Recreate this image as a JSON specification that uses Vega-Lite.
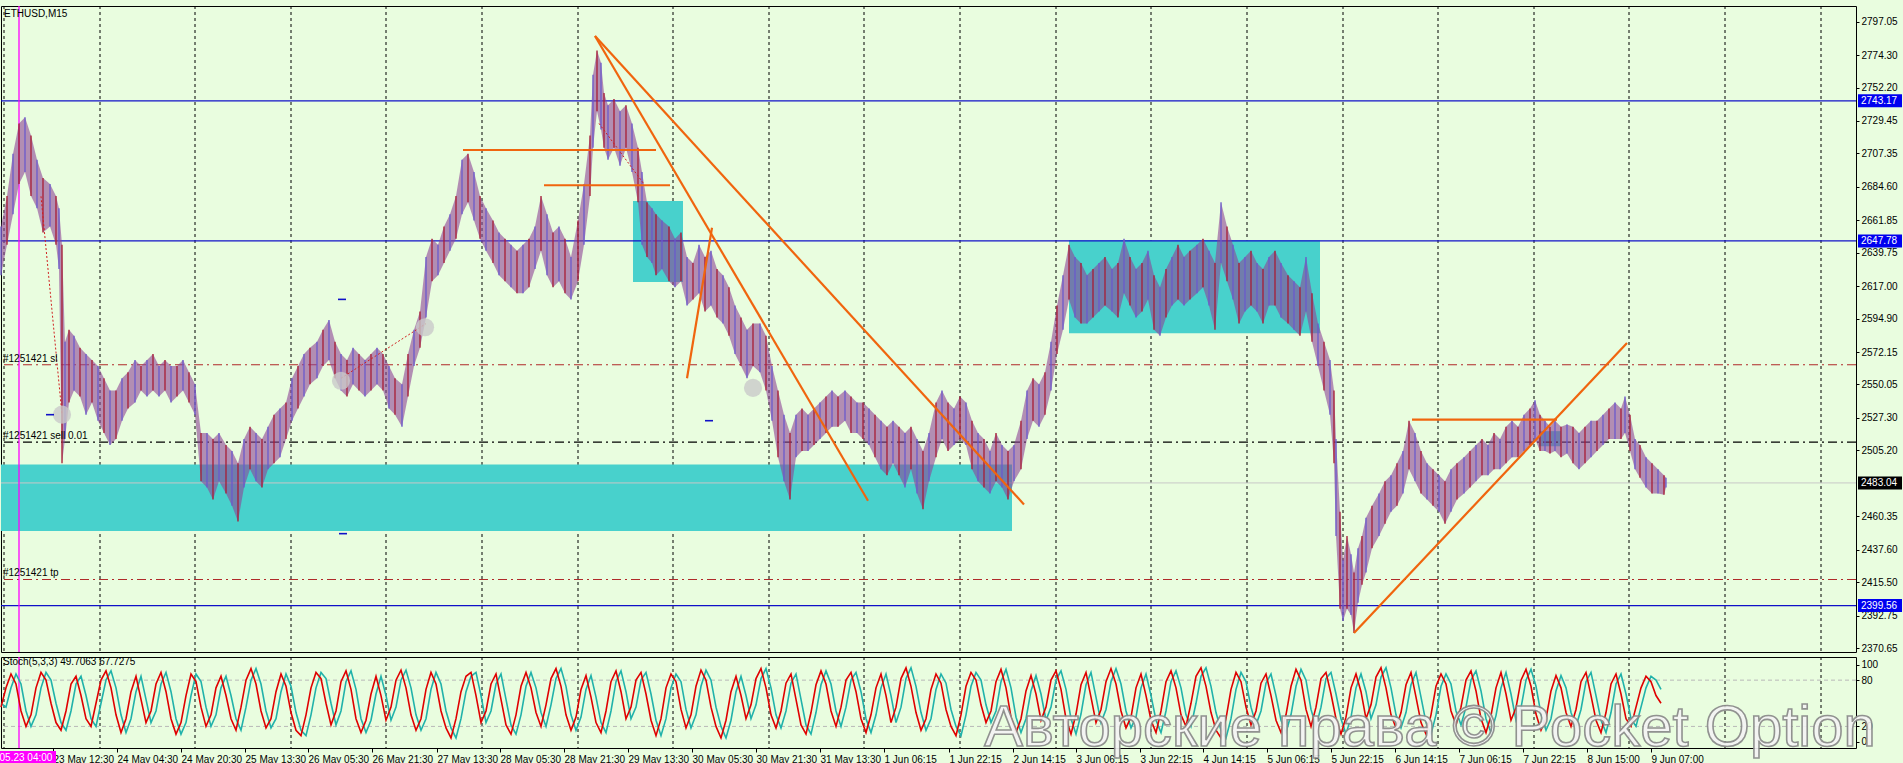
{
"$schema":"https://vega.github.io/schema/vega-lite/v6.json",
"background":"#e9fddf",
"padding":{"left":-19,"top":4,"right":0,"bottom":0},
"spacing":1,
"config":{"view":{"stroke":"#000","strokeWidth":1},"font":"Liberation Sans","axis":{"labelOverlap":false,"labelBound":false,"labelFlush":false}},
"resolve":{"scale":{"x":"independent","y":"independent"}},
"datasets":{
"grid":[{"t":3},{"t":99},{"t":194},{"t":290},{"t":385},{"t":481},{"t":577},{"t":672},{"t":768},{"t":863},{"t":959},{"t":1055},{"t":1150},{"t":1246},{"t":1342},{"t":1437},{"t":1533},{"t":1628},{"t":1724},{"t":1820}],
"zones":[{"t1":0,"t2":1011,"p1":2450.3,"p2":2495.5},{"t1":632,"t2":682,"p1":2619.8,"p2":2675.0},{"t1":1068,"t2":1319,"p1":2585.0,"p2":2648.3},{"t1":1538,"t2":1560,"p1":2508.0,"p2":2518.3}],
"blueLevels":[{"p":2743.17},{"p":2647.78},{"p":2399.56}],
"redLevels":[{"p":2563.5},{"p":2417.3}],
"blackLevels":[{"p":2510.8}],
"grayLevels":[{"p":2483.04}],
"pink":[{"t":18}],
"orders":[{"p":2563.5,"txt":"#1251421 sl"},{"p":2510.8,"txt":"#1251421 sell 0.01"},{"p":2417.3,"txt":"#1251421 tp"}],
"orange":[{"t1":462,"p1":2709.7,"t2":655,"p2":2709.7},{"t1":543,"p1":2685.7,"t2":669,"p2":2685.7},{"t1":594,"p1":2787.3,"t2":867,"p2":2470.9},{"t1":594,"p1":2787.3,"t2":1023,"p2":2468.4},{"t1":686,"p1":2554.3,"t2":711,"p2":2656.8},{"t1":1411,"p1":2526.2,"t2":1556,"p2":2526.2},{"t1":1353,"p1":2380.8,"t2":1626,"p2":2578.3}],
"trades":[{"t1":40,"p1":2678.2,"t2":61,"p2":2529.5},{"t1":598,"p1":2727.8,"t2":643,"p2":2686.5},{"t1":340,"p1":2554.3,"t2":425,"p2":2591.5}],
"circles":[{"t":61,"p":2529.5},{"t":340,"p":2552.6},{"t":424,"p":2589.0},{"t":752,"p":2547.7}],
"bdash":[{"t":49,"p":2529.5},{"t":341,"p":2608.0},{"t":342,"p":2448.5},{"t":708,"p":2525.4}],
"ylab":[{"p":2743.17},{"p":2647.78},{"p":2483.04},{"p":2399.56}],
"levels":[{"v":20},{"v":80}],
"price":[
{"t":0,"h":2657.6,"l":2624.5,"d":"u"},{"t":6,"h":2678.3,"l":2645.2,"d":"d"},{"t":12,"h":2707.2,"l":2665.9,"d":"u"},{"t":18,"h":2727.8,"l":2686.5,"d":"d"},{"t":24,"h":2732.0,"l":2694.8,"d":"u"},{"t":30,"h":2719.6,"l":2678.3,"d":"d"},{"t":36,"h":2703.0,"l":2670.0,"d":"u"},{"t":42,"h":2690.7,"l":2653.5,"d":"d"},{"t":49,"h":2686.5,"l":2657.6,"d":"u"},{"t":55,"h":2678.3,"l":2645.2,"d":"d"},{"t":58,"h":2670.0,"l":2628.7,"d":"u"},{"t":61,"h":2645.2,"l":2496.5,"d":"d"},{"t":64,"h":2579.1,"l":2513.0,"d":"u"},{"t":68,"h":2587.4,"l":2537.8,"d":"d"},{"t":73,"h":2583.2,"l":2546.0,"d":"u"},{"t":79,"h":2575.0,"l":2541.9,"d":"d"},{"t":85,"h":2570.8,"l":2529.5,"d":"u"},{"t":91,"h":2566.7,"l":2537.8,"d":"d"},{"t":97,"h":2562.6,"l":2525.4,"d":"u"},{"t":103,"h":2554.3,"l":2517.1,"d":"d"},{"t":109,"h":2546.0,"l":2508.9,"d":"u"},{"t":115,"h":2546.0,"l":2513.0,"d":"d"},{"t":121,"h":2554.3,"l":2525.4,"d":"u"},{"t":127,"h":2558.4,"l":2533.7,"d":"d"},{"t":134,"h":2566.7,"l":2537.8,"d":"u"},{"t":140,"h":2562.6,"l":2546.0,"d":"d"},{"t":146,"h":2566.7,"l":2541.9,"d":"u"},{"t":152,"h":2570.8,"l":2546.0,"d":"d"},{"t":158,"h":2562.6,"l":2541.9,"d":"u"},{"t":164,"h":2566.7,"l":2546.0,"d":"d"},{"t":170,"h":2562.6,"l":2537.8,"d":"u"},{"t":176,"h":2562.6,"l":2541.9,"d":"d"},{"t":182,"h":2566.7,"l":2546.0,"d":"u"},{"t":188,"h":2558.4,"l":2537.8,"d":"d"},{"t":194,"h":2550.2,"l":2529.5,"d":"u"},{"t":200,"h":2517.1,"l":2484.1,"d":"d"},{"t":206,"h":2517.1,"l":2479.9,"d":"u"},{"t":212,"h":2513.0,"l":2471.7,"d":"d"},{"t":218,"h":2517.1,"l":2484.1,"d":"u"},{"t":225,"h":2508.9,"l":2475.8,"d":"d"},{"t":231,"h":2504.7,"l":2467.5,"d":"u"},{"t":237,"h":2496.5,"l":2456.8,"d":"d"},{"t":243,"h":2513.0,"l":2479.9,"d":"u"},{"t":249,"h":2521.3,"l":2492.3,"d":"d"},{"t":255,"h":2517.1,"l":2484.1,"d":"u"},{"t":261,"h":2513.0,"l":2479.9,"d":"d"},{"t":267,"h":2521.3,"l":2492.3,"d":"u"},{"t":273,"h":2529.5,"l":2496.5,"d":"d"},{"t":279,"h":2533.7,"l":2500.6,"d":"u"},{"t":285,"h":2537.8,"l":2513.0,"d":"d"},{"t":291,"h":2554.3,"l":2525.4,"d":"u"},{"t":297,"h":2562.6,"l":2533.7,"d":"d"},{"t":303,"h":2570.8,"l":2541.9,"d":"u"},{"t":309,"h":2575.0,"l":2550.2,"d":"d"},{"t":316,"h":2579.1,"l":2554.3,"d":"u"},{"t":322,"h":2587.4,"l":2562.6,"d":"d"},{"t":328,"h":2593.9,"l":2566.7,"d":"u"},{"t":334,"h":2579.1,"l":2554.3,"d":"d"},{"t":340,"h":2570.8,"l":2546.0,"d":"u"},{"t":346,"h":2566.7,"l":2541.9,"d":"d"},{"t":352,"h":2575.0,"l":2550.2,"d":"u"},{"t":358,"h":2570.8,"l":2546.0,"d":"d"},{"t":364,"h":2566.7,"l":2541.9,"d":"u"},{"t":370,"h":2570.8,"l":2546.0,"d":"d"},{"t":376,"h":2575.0,"l":2550.2,"d":"u"},{"t":382,"h":2570.8,"l":2546.0,"d":"d"},{"t":388,"h":2562.6,"l":2533.7,"d":"u"},{"t":394,"h":2554.3,"l":2529.5,"d":"d"},{"t":401,"h":2550.2,"l":2521.3,"d":"u"},{"t":407,"h":2570.8,"l":2541.9,"d":"d"},{"t":413,"h":2587.4,"l":2562.6,"d":"u"},{"t":419,"h":2599.8,"l":2575.0,"d":"d"},{"t":425,"h":2636.9,"l":2595.6,"d":"u"},{"t":431,"h":2649.3,"l":2620.4,"d":"d"},{"t":437,"h":2645.2,"l":2624.5,"d":"u"},{"t":443,"h":2657.6,"l":2632.8,"d":"d"},{"t":449,"h":2665.9,"l":2641.1,"d":"u"},{"t":455,"h":2678.3,"l":2649.3,"d":"d"},{"t":461,"h":2703.0,"l":2665.9,"d":"u"},{"t":467,"h":2707.2,"l":2674.1,"d":"d"},{"t":473,"h":2694.8,"l":2661.7,"d":"u"},{"t":479,"h":2678.3,"l":2649.3,"d":"d"},{"t":485,"h":2670.0,"l":2641.1,"d":"u"},{"t":492,"h":2661.7,"l":2632.8,"d":"d"},{"t":498,"h":2653.5,"l":2624.5,"d":"u"},{"t":504,"h":2649.3,"l":2620.4,"d":"d"},{"t":510,"h":2645.2,"l":2616.3,"d":"u"},{"t":516,"h":2641.1,"l":2612.2,"d":"d"},{"t":522,"h":2645.2,"l":2612.2,"d":"u"},{"t":528,"h":2649.3,"l":2616.3,"d":"d"},{"t":534,"h":2657.6,"l":2628.7,"d":"u"},{"t":540,"h":2678.3,"l":2641.1,"d":"d"},{"t":546,"h":2665.9,"l":2624.5,"d":"u"},{"t":552,"h":2653.5,"l":2616.3,"d":"d"},{"t":558,"h":2657.6,"l":2620.4,"d":"u"},{"t":564,"h":2649.3,"l":2612.2,"d":"d"},{"t":570,"h":2636.9,"l":2608.0,"d":"u"},{"t":577,"h":2661.7,"l":2620.4,"d":"d"},{"t":583,"h":2686.5,"l":2645.2,"d":"u"},{"t":589,"h":2719.6,"l":2678.3,"d":"d"},{"t":592,"h":2760.9,"l":2711.3,"d":"u"},{"t":596,"h":2777.4,"l":2736.1,"d":"d"},{"t":600,"h":2769.1,"l":2723.7,"d":"u"},{"t":603,"h":2748.5,"l":2711.3,"d":"d"},{"t":607,"h":2740.2,"l":2703.0,"d":"u"},{"t":613,"h":2744.4,"l":2711.3,"d":"d"},{"t":619,"h":2736.1,"l":2698.9,"d":"u"},{"t":625,"h":2740.2,"l":2711.3,"d":"d"},{"t":631,"h":2727.8,"l":2694.8,"d":"u"},{"t":637,"h":2711.3,"l":2674.1,"d":"d"},{"t":641,"h":2694.8,"l":2645.2,"d":"u"},{"t":646,"h":2674.1,"l":2636.9,"d":"d"},{"t":651,"h":2670.0,"l":2632.8,"d":"u"},{"t":655,"h":2665.9,"l":2624.5,"d":"d"},{"t":661,"h":2661.7,"l":2628.7,"d":"u"},{"t":668,"h":2657.6,"l":2620.4,"d":"d"},{"t":674,"h":2649.3,"l":2616.3,"d":"u"},{"t":680,"h":2653.5,"l":2620.4,"d":"d"},{"t":686,"h":2636.9,"l":2603.9,"d":"u"},{"t":692,"h":2632.8,"l":2608.0,"d":"d"},{"t":698,"h":2645.2,"l":2612.2,"d":"u"},{"t":704,"h":2636.9,"l":2599.8,"d":"d"},{"t":710,"h":2641.1,"l":2603.9,"d":"u"},{"t":716,"h":2628.7,"l":2595.6,"d":"d"},{"t":722,"h":2624.5,"l":2591.5,"d":"u"},{"t":728,"h":2616.3,"l":2583.2,"d":"d"},{"t":734,"h":2603.9,"l":2570.8,"d":"u"},{"t":740,"h":2595.6,"l":2562.6,"d":"d"},{"t":746,"h":2587.4,"l":2554.3,"d":"u"},{"t":752,"h":2591.5,"l":2562.6,"d":"d"},{"t":759,"h":2591.5,"l":2558.4,"d":"u"},{"t":765,"h":2583.2,"l":2546.0,"d":"d"},{"t":771,"h":2562.6,"l":2525.4,"d":"u"},{"t":777,"h":2546.0,"l":2500.6,"d":"d"},{"t":783,"h":2529.5,"l":2484.1,"d":"u"},{"t":789,"h":2517.1,"l":2471.7,"d":"d"},{"t":795,"h":2529.5,"l":2500.6,"d":"u"},{"t":801,"h":2533.7,"l":2504.7,"d":"d"},{"t":807,"h":2529.5,"l":2504.7,"d":"u"},{"t":813,"h":2533.7,"l":2508.9,"d":"d"},{"t":819,"h":2537.8,"l":2513.0,"d":"u"},{"t":825,"h":2541.9,"l":2517.1,"d":"d"},{"t":831,"h":2546.0,"l":2521.3,"d":"u"},{"t":837,"h":2541.9,"l":2521.3,"d":"d"},{"t":844,"h":2546.0,"l":2525.4,"d":"u"},{"t":850,"h":2541.9,"l":2517.1,"d":"d"},{"t":856,"h":2537.8,"l":2517.1,"d":"u"},{"t":862,"h":2537.8,"l":2513.0,"d":"d"},{"t":868,"h":2533.7,"l":2508.9,"d":"u"},{"t":874,"h":2529.5,"l":2500.6,"d":"d"},{"t":880,"h":2525.4,"l":2492.3,"d":"u"},{"t":886,"h":2521.3,"l":2488.2,"d":"d"},{"t":892,"h":2525.4,"l":2496.5,"d":"u"},{"t":898,"h":2521.3,"l":2488.2,"d":"d"},{"t":904,"h":2517.1,"l":2479.9,"d":"u"},{"t":910,"h":2521.3,"l":2492.3,"d":"d"},{"t":916,"h":2513.0,"l":2475.8,"d":"u"},{"t":922,"h":2504.7,"l":2465.1,"d":"d"},{"t":928,"h":2517.1,"l":2484.1,"d":"u"},{"t":935,"h":2537.8,"l":2500.6,"d":"d"},{"t":941,"h":2546.0,"l":2513.0,"d":"u"},{"t":947,"h":2537.8,"l":2504.7,"d":"d"},{"t":953,"h":2533.7,"l":2508.9,"d":"u"},{"t":959,"h":2541.9,"l":2513.0,"d":"d"},{"t":965,"h":2537.8,"l":2508.9,"d":"u"},{"t":971,"h":2525.4,"l":2492.3,"d":"d"},{"t":977,"h":2517.1,"l":2484.1,"d":"u"},{"t":983,"h":2513.0,"l":2479.9,"d":"d"},{"t":989,"h":2504.7,"l":2475.8,"d":"u"},{"t":995,"h":2517.1,"l":2484.1,"d":"d"},{"t":1001,"h":2508.9,"l":2479.9,"d":"u"},{"t":1007,"h":2504.7,"l":2471.7,"d":"d"},{"t":1013,"h":2508.9,"l":2484.1,"d":"u"},{"t":1020,"h":2525.4,"l":2492.3,"d":"d"},{"t":1026,"h":2546.0,"l":2513.0,"d":"u"},{"t":1032,"h":2554.3,"l":2525.4,"d":"d"},{"t":1038,"h":2550.2,"l":2521.3,"d":"u"},{"t":1044,"h":2558.4,"l":2529.5,"d":"d"},{"t":1050,"h":2579.1,"l":2546.0,"d":"u"},{"t":1056,"h":2603.9,"l":2570.8,"d":"d"},{"t":1062,"h":2624.5,"l":2587.4,"d":"u"},{"t":1068,"h":2645.2,"l":2608.0,"d":"d"},{"t":1074,"h":2636.9,"l":2595.6,"d":"u"},{"t":1080,"h":2632.8,"l":2591.5,"d":"d"},{"t":1086,"h":2624.5,"l":2591.5,"d":"u"},{"t":1092,"h":2628.7,"l":2595.6,"d":"d"},{"t":1098,"h":2632.8,"l":2599.8,"d":"u"},{"t":1104,"h":2636.9,"l":2603.9,"d":"d"},{"t":1111,"h":2628.7,"l":2599.8,"d":"u"},{"t":1117,"h":2632.8,"l":2595.6,"d":"d"},{"t":1123,"h":2649.3,"l":2612.2,"d":"u"},{"t":1129,"h":2636.9,"l":2603.9,"d":"d"},{"t":1135,"h":2628.7,"l":2595.6,"d":"u"},{"t":1141,"h":2632.8,"l":2599.8,"d":"d"},{"t":1147,"h":2641.1,"l":2608.0,"d":"u"},{"t":1153,"h":2624.5,"l":2587.4,"d":"d"},{"t":1159,"h":2616.3,"l":2583.2,"d":"u"},{"t":1165,"h":2628.7,"l":2595.6,"d":"d"},{"t":1171,"h":2636.9,"l":2603.9,"d":"u"},{"t":1177,"h":2645.2,"l":2608.0,"d":"d"},{"t":1183,"h":2636.9,"l":2603.9,"d":"u"},{"t":1189,"h":2641.1,"l":2608.0,"d":"d"},{"t":1196,"h":2645.2,"l":2612.2,"d":"u"},{"t":1202,"h":2649.3,"l":2616.3,"d":"d"},{"t":1208,"h":2641.1,"l":2603.9,"d":"u"},{"t":1214,"h":2632.8,"l":2587.4,"d":"d"},{"t":1220,"h":2674.1,"l":2632.8,"d":"u"},{"t":1226,"h":2657.6,"l":2620.4,"d":"d"},{"t":1232,"h":2645.2,"l":2608.0,"d":"u"},{"t":1238,"h":2632.8,"l":2591.5,"d":"d"},{"t":1244,"h":2636.9,"l":2599.8,"d":"u"},{"t":1250,"h":2641.1,"l":2603.9,"d":"d"},{"t":1256,"h":2632.8,"l":2599.8,"d":"u"},{"t":1262,"h":2628.7,"l":2591.5,"d":"d"},{"t":1268,"h":2636.9,"l":2603.9,"d":"u"},{"t":1274,"h":2641.1,"l":2603.9,"d":"d"},{"t":1280,"h":2632.8,"l":2595.6,"d":"u"},{"t":1287,"h":2624.5,"l":2591.5,"d":"d"},{"t":1293,"h":2620.4,"l":2587.4,"d":"u"},{"t":1299,"h":2616.3,"l":2583.2,"d":"d"},{"t":1305,"h":2636.9,"l":2599.8,"d":"u"},{"t":1311,"h":2612.2,"l":2579.1,"d":"d"},{"t":1317,"h":2591.5,"l":2562.6,"d":"u"},{"t":1323,"h":2579.1,"l":2546.0,"d":"d"},{"t":1329,"h":2566.7,"l":2529.5,"d":"u"},{"t":1333,"h":2546.0,"l":2496.5,"d":"d"},{"t":1335,"h":2513.0,"l":2446.9,"d":"u"},{"t":1339,"h":2463.4,"l":2397.3,"d":"d"},{"t":1342,"h":2430.4,"l":2389.0,"d":"u"},{"t":1346,"h":2446.9,"l":2397.3,"d":"d"},{"t":1350,"h":2434.5,"l":2393.2,"d":"u"},{"t":1353,"h":2422.1,"l":2380.8,"d":"d"},{"t":1357,"h":2438.6,"l":2401.4,"d":"u"},{"t":1361,"h":2446.9,"l":2413.8,"d":"d"},{"t":1365,"h":2459.3,"l":2422.1,"d":"u"},{"t":1371,"h":2467.5,"l":2438.6,"d":"d"},{"t":1378,"h":2475.8,"l":2446.9,"d":"u"},{"t":1384,"h":2484.1,"l":2455.2,"d":"d"},{"t":1390,"h":2488.2,"l":2463.4,"d":"u"},{"t":1396,"h":2496.5,"l":2467.5,"d":"d"},{"t":1402,"h":2504.7,"l":2475.8,"d":"u"},{"t":1408,"h":2525.4,"l":2492.3,"d":"d"},{"t":1414,"h":2517.1,"l":2484.1,"d":"u"},{"t":1420,"h":2504.7,"l":2475.8,"d":"d"},{"t":1426,"h":2496.5,"l":2471.7,"d":"u"},{"t":1432,"h":2492.3,"l":2467.5,"d":"d"},{"t":1438,"h":2488.2,"l":2463.4,"d":"u"},{"t":1444,"h":2484.1,"l":2455.2,"d":"d"},{"t":1450,"h":2492.3,"l":2463.4,"d":"u"},{"t":1456,"h":2496.5,"l":2471.7,"d":"d"},{"t":1463,"h":2500.6,"l":2475.8,"d":"u"},{"t":1469,"h":2504.7,"l":2479.9,"d":"d"},{"t":1475,"h":2508.9,"l":2484.1,"d":"u"},{"t":1481,"h":2513.0,"l":2488.2,"d":"d"},{"t":1487,"h":2508.9,"l":2488.2,"d":"u"},{"t":1493,"h":2517.1,"l":2492.3,"d":"d"},{"t":1499,"h":2513.0,"l":2492.3,"d":"u"},{"t":1505,"h":2521.3,"l":2496.5,"d":"d"},{"t":1511,"h":2525.4,"l":2500.6,"d":"u"},{"t":1517,"h":2521.3,"l":2500.6,"d":"d"},{"t":1523,"h":2529.5,"l":2504.7,"d":"u"},{"t":1529,"h":2533.7,"l":2508.9,"d":"d"},{"t":1534,"h":2539.4,"l":2513.0,"d":"u"},{"t":1539,"h":2529.5,"l":2504.7,"d":"d"},{"t":1544,"h":2525.4,"l":2504.7,"d":"u"},{"t":1549,"h":2521.3,"l":2503.1,"d":"d"},{"t":1554,"h":2525.4,"l":2504.7,"d":"u"},{"t":1560,"h":2521.3,"l":2500.6,"d":"d"},{"t":1566,"h":2522.9,"l":2503.1,"d":"u"},{"t":1572,"h":2521.3,"l":2496.5,"d":"d"},{"t":1578,"h":2517.1,"l":2492.3,"d":"u"},{"t":1584,"h":2521.3,"l":2496.5,"d":"d"},{"t":1590,"h":2525.4,"l":2500.6,"d":"u"},{"t":1596,"h":2525.4,"l":2504.7,"d":"d"},{"t":1602,"h":2529.5,"l":2508.9,"d":"u"},{"t":1608,"h":2533.7,"l":2513.0,"d":"d"},{"t":1614,"h":2537.8,"l":2513.0,"d":"u"},{"t":1620,"h":2533.7,"l":2513.0,"d":"d"},{"t":1624,"h":2541.9,"l":2517.1,"d":"u"},{"t":1629,"h":2529.5,"l":2504.7,"d":"d"},{"t":1634,"h":2513.0,"l":2492.3,"d":"u"},{"t":1639,"h":2508.9,"l":2486.6,"d":"d"},{"t":1645,"h":2500.6,"l":2479.9,"d":"u"},{"t":1651,"h":2496.5,"l":2475.8,"d":"d"},{"t":1657,"h":2492.3,"l":2475.8,"d":"u"},{"t":1663,"h":2488.2,"l":2475.0,"d":"d"},{"t":1665,"h":2486.6,"l":2479.9,"d":"u"}
],
"stoch":[
{"t":0,"k":45,"s":50},{"t":5,"k":70,"s":45},{"t":10,"k":88,"s":70},{"t":15,"k":75,"s":88},{"t":20,"k":40,"s":75},{"t":25,"k":20,"s":40},{"t":30,"k":35,"s":20},{"t":35,"k":70,"s":35},{"t":40,"k":90,"s":70},{"t":45,"k":80,"s":90},
{"t":50,"k":50,"s":80},{"t":55,"k":25,"s":50},{"t":60,"k":15,"s":25},{"t":65,"k":40,"s":15},{"t":70,"k":75,"s":40},{"t":75,"k":85,"s":75},{"t":80,"k":60,"s":85},{"t":85,"k":30,"s":60},{"t":90,"k":20,"s":30},{"t":95,"k":50,"s":20},
{"t":100,"k":80,"s":50},{"t":105,"k":92,"s":80},{"t":110,"k":70,"s":92},{"t":115,"k":35,"s":70},{"t":120,"k":12,"s":35},{"t":125,"k":30,"s":12},{"t":130,"k":65,"s":30},{"t":135,"k":85,"s":65},{"t":140,"k":55,"s":85},{"t":145,"k":25,"s":55},
{"t":150,"k":40,"s":25},{"t":155,"k":75,"s":40},{"t":160,"k":90,"s":75},{"t":165,"k":65,"s":90},{"t":170,"k":30,"s":65},{"t":175,"k":10,"s":30},{"t":180,"k":25,"s":10},{"t":185,"k":60,"s":25},{"t":190,"k":88,"s":60},{"t":195,"k":78,"s":88},
{"t":200,"k":45,"s":78},{"t":205,"k":20,"s":45},{"t":210,"k":35,"s":20},{"t":215,"k":70,"s":35},{"t":220,"k":85,"s":70},{"t":225,"k":60,"s":85},{"t":230,"k":30,"s":60},{"t":235,"k":15,"s":30},{"t":240,"k":45,"s":15},{"t":245,"k":80,"s":45},
{"t":250,"k":95,"s":80},{"t":255,"k":75,"s":95},{"t":260,"k":40,"s":75},{"t":265,"k":18,"s":40},{"t":270,"k":30,"s":18},{"t":275,"k":65,"s":30},{"t":280,"k":88,"s":65},{"t":285,"k":72,"s":88},{"t":290,"k":38,"s":72},{"t":295,"k":15,"s":38},
{"t":300,"k":8,"s":15},{"t":305,"k":35,"s":8},{"t":310,"k":70,"s":35},{"t":315,"k":90,"s":70},{"t":320,"k":82,"s":90},{"t":325,"k":50,"s":82},{"t":330,"k":22,"s":50},{"t":335,"k":40,"s":22},{"t":340,"k":78,"s":40},{"t":345,"k":92,"s":78},
{"t":350,"k":68,"s":92},{"t":355,"k":30,"s":68},{"t":360,"k":12,"s":30},{"t":365,"k":28,"s":12},{"t":370,"k":62,"s":28},{"t":375,"k":85,"s":62},{"t":380,"k":60,"s":85},{"t":385,"k":28,"s":60},{"t":390,"k":45,"s":28},{"t":395,"k":80,"s":45},
{"t":400,"k":93,"s":80},{"t":405,"k":70,"s":93},{"t":410,"k":35,"s":70},{"t":415,"k":15,"s":35},{"t":420,"k":30,"s":15},{"t":425,"k":68,"s":30},{"t":430,"k":90,"s":68},{"t":435,"k":75,"s":90},{"t":440,"k":40,"s":75},{"t":445,"k":18,"s":40},
{"t":450,"k":5,"s":18},{"t":455,"k":30,"s":5},{"t":460,"k":65,"s":30},{"t":465,"k":85,"s":65},{"t":470,"k":90,"s":85},{"t":475,"k":60,"s":90},{"t":480,"k":25,"s":60},{"t":485,"k":40,"s":25},{"t":490,"k":75,"s":40},{"t":495,"k":88,"s":75},
{"t":500,"k":55,"s":88},{"t":505,"k":22,"s":55},{"t":510,"k":10,"s":22},{"t":515,"k":35,"s":10},{"t":520,"k":72,"s":35},{"t":525,"k":90,"s":72},{"t":530,"k":70,"s":90},{"t":535,"k":38,"s":70},{"t":540,"k":20,"s":38},{"t":545,"k":48,"s":20},
{"t":550,"k":82,"s":48},{"t":555,"k":95,"s":82},{"t":560,"k":72,"s":95},{"t":565,"k":35,"s":72},{"t":570,"k":15,"s":35},{"t":575,"k":32,"s":15},{"t":580,"k":68,"s":32},{"t":585,"k":86,"s":68},{"t":590,"k":58,"s":86},{"t":595,"k":25,"s":58},
{"t":600,"k":12,"s":25},{"t":605,"k":40,"s":12},{"t":610,"k":78,"s":40},{"t":615,"k":92,"s":78},{"t":620,"k":65,"s":92},{"t":625,"k":30,"s":65},{"t":630,"k":45,"s":30},{"t":635,"k":80,"s":45},{"t":640,"k":90,"s":80},{"t":645,"k":62,"s":90},
{"t":650,"k":28,"s":62},{"t":655,"k":8,"s":28},{"t":660,"k":30,"s":8},{"t":665,"k":70,"s":30},{"t":670,"k":88,"s":70},{"t":675,"k":78,"s":88},{"t":680,"k":42,"s":78},{"t":685,"k":18,"s":42},{"t":690,"k":35,"s":18},{"t":695,"k":72,"s":35},
{"t":700,"k":93,"s":72},{"t":705,"k":80,"s":93},{"t":710,"k":45,"s":80},{"t":715,"k":20,"s":45},{"t":720,"k":5,"s":20},{"t":725,"k":28,"s":5},{"t":730,"k":65,"s":28},{"t":735,"k":85,"s":65},{"t":740,"k":60,"s":85},{"t":745,"k":30,"s":60},
{"t":750,"k":48,"s":30},{"t":755,"k":82,"s":48},{"t":760,"k":95,"s":82},{"t":765,"k":70,"s":95},{"t":770,"k":35,"s":70},{"t":775,"k":18,"s":35},{"t":780,"k":40,"s":18},{"t":785,"k":76,"s":40},{"t":790,"k":88,"s":76},{"t":795,"k":55,"s":88},
{"t":800,"k":22,"s":55},{"t":805,"k":10,"s":22},{"t":810,"k":38,"s":10},{"t":815,"k":74,"s":38},{"t":820,"k":92,"s":74},{"t":825,"k":75,"s":92},{"t":830,"k":40,"s":75},{"t":835,"k":20,"s":40},{"t":840,"k":45,"s":20},{"t":845,"k":80,"s":45},
{"t":850,"k":90,"s":80},{"t":855,"k":65,"s":90},{"t":860,"k":30,"s":65},{"t":865,"k":12,"s":30},{"t":870,"k":35,"s":12},{"t":875,"k":70,"s":35},{"t":880,"k":88,"s":70},{"t":885,"k":60,"s":88},{"t":890,"k":25,"s":60},{"t":895,"k":45,"s":25},
{"t":900,"k":82,"s":45},{"t":905,"k":96,"s":82},{"t":910,"k":72,"s":96},{"t":915,"k":38,"s":72},{"t":920,"k":15,"s":38},{"t":925,"k":30,"s":15},{"t":930,"k":68,"s":30},{"t":935,"k":88,"s":68},{"t":940,"k":76,"s":88},{"t":945,"k":42,"s":76},
{"t":950,"k":20,"s":42},{"t":955,"k":8,"s":20},{"t":960,"k":35,"s":8},{"t":965,"k":72,"s":35},{"t":970,"k":90,"s":72},{"t":975,"k":80,"s":90},{"t":980,"k":48,"s":80},{"t":985,"k":25,"s":48},{"t":990,"k":40,"s":25},{"t":995,"k":78,"s":40},
{"t":1000,"k":94,"s":78},{"t":1005,"k":70,"s":94},{"t":1010,"k":32,"s":70},{"t":1015,"k":12,"s":32},{"t":1020,"k":30,"s":12},{"t":1025,"k":66,"s":30},{"t":1030,"k":86,"s":66},{"t":1035,"k":62,"s":86},{"t":1040,"k":28,"s":62},{"t":1045,"k":45,"s":28},
{"t":1050,"k":80,"s":45},{"t":1055,"k":92,"s":80},{"t":1060,"k":68,"s":92},{"t":1065,"k":30,"s":68},{"t":1070,"k":10,"s":30},{"t":1075,"k":36,"s":10},{"t":1080,"k":74,"s":36},{"t":1085,"k":90,"s":74},{"t":1090,"k":58,"s":90},{"t":1095,"k":25,"s":58},
{"t":1100,"k":42,"s":25},{"t":1105,"k":78,"s":42},{"t":1110,"k":95,"s":78},{"t":1115,"k":75,"s":95},{"t":1120,"k":40,"s":75},{"t":1125,"k":18,"s":40},{"t":1130,"k":32,"s":18},{"t":1135,"k":70,"s":32},{"t":1140,"k":88,"s":70},{"t":1145,"k":60,"s":88},
{"t":1150,"k":28,"s":60},{"t":1155,"k":12,"s":28},{"t":1160,"k":40,"s":12},{"t":1165,"k":78,"s":40},{"t":1170,"k":92,"s":78},{"t":1175,"k":70,"s":92},{"t":1180,"k":35,"s":70},{"t":1185,"k":20,"s":35},{"t":1190,"k":50,"s":20},{"t":1195,"k":85,"s":50},
{"t":1200,"k":96,"s":85},{"t":1205,"k":72,"s":96},{"t":1210,"k":38,"s":72},{"t":1215,"k":15,"s":38},{"t":1220,"k":5,"s":15},{"t":1225,"k":30,"s":5},{"t":1230,"k":68,"s":30},{"t":1235,"k":90,"s":68},{"t":1240,"k":78,"s":90},{"t":1245,"k":45,"s":78},
{"t":1250,"k":22,"s":45},{"t":1255,"k":40,"s":22},{"t":1260,"k":76,"s":40},{"t":1265,"k":88,"s":76},{"t":1270,"k":60,"s":88},{"t":1275,"k":28,"s":60},{"t":1280,"k":12,"s":28},{"t":1285,"k":35,"s":12},{"t":1290,"k":72,"s":35},{"t":1295,"k":94,"s":72},
{"t":1300,"k":80,"s":94},{"t":1305,"k":42,"s":80},{"t":1310,"k":20,"s":42},{"t":1315,"k":45,"s":20},{"t":1320,"k":82,"s":45},{"t":1325,"k":90,"s":82},{"t":1330,"k":62,"s":90},{"t":1335,"k":30,"s":62},{"t":1340,"k":10,"s":30},{"t":1345,"k":32,"s":10},
{"t":1350,"k":70,"s":32},{"t":1355,"k":88,"s":70},{"t":1360,"k":65,"s":88},{"t":1365,"k":30,"s":65},{"t":1370,"k":48,"s":30},{"t":1375,"k":84,"s":48},{"t":1380,"k":96,"s":84},{"t":1385,"k":70,"s":96},{"t":1390,"k":35,"s":70},{"t":1395,"k":18,"s":35},
{"t":1400,"k":38,"s":18},{"t":1405,"k":74,"s":38},{"t":1410,"k":90,"s":74},{"t":1415,"k":58,"s":90},{"t":1420,"k":25,"s":58},{"t":1425,"k":10,"s":25},{"t":1430,"k":35,"s":10},{"t":1435,"k":72,"s":35},{"t":1440,"k":88,"s":72},{"t":1445,"k":75,"s":88},
{"t":1450,"k":40,"s":75},{"t":1455,"k":22,"s":40},{"t":1460,"k":45,"s":22},{"t":1465,"k":80,"s":45},{"t":1470,"k":92,"s":80},{"t":1475,"k":66,"s":92},{"t":1480,"k":30,"s":66},{"t":1485,"k":12,"s":30},{"t":1490,"k":34,"s":12},{"t":1495,"k":70,"s":34},
{"t":1500,"k":90,"s":70},{"t":1505,"k":62,"s":90},{"t":1510,"k":28,"s":62},{"t":1515,"k":44,"s":28},{"t":1520,"k":80,"s":44},{"t":1525,"k":94,"s":80},{"t":1530,"k":72,"s":94},{"t":1535,"k":36,"s":72},{"t":1540,"k":15,"s":36},{"t":1545,"k":30,"s":15},
{"t":1550,"k":66,"s":30},{"t":1555,"k":86,"s":66},{"t":1560,"k":70,"s":86},{"t":1565,"k":38,"s":70},{"t":1570,"k":20,"s":38},{"t":1575,"k":42,"s":20},{"t":1580,"k":78,"s":42},{"t":1585,"k":90,"s":78},{"t":1590,"k":60,"s":90},{"t":1595,"k":28,"s":60},
{"t":1600,"k":12,"s":28},{"t":1605,"k":38,"s":12},{"t":1610,"k":75,"s":38},{"t":1615,"k":88,"s":75},{"t":1620,"k":62,"s":88},{"t":1625,"k":30,"s":62},{"t":1630,"k":20,"s":30},{"t":1635,"k":45,"s":20},{"t":1640,"k":70,"s":45},{"t":1645,"k":85,"s":70},
{"t":1650,"k":78,"s":85},{"t":1655,"k":60,"s":80},{"t":1660,"k":50,"s":68}
],
"stochLabel":[{"txt":"Stoch(5,3,3) 49.7063 67.7275"}],
"watermark":[{"txt":"Авторские права © Pocket Option"}],
"timeLabel":[{"txt":"23.05.23 04:00"}],
"title":[{"txt":"ETHUSD,M15"}]
},
"vconcat":[
{
"width":1855,"height":646,
"layer":[
{"data":{"name":"grid"},"mark":{"type":"rule","stroke":"#000","strokeDash":[3,3],"strokeWidth":1},
 "encoding":{"x":{"field":"t","type":"quantitative","scale":{"domain":[0,1855],"nice":false,"zero":false},"axis":null}}},
{"data":{"name":"zones"},"mark":{"type":"rect","fill":"#48d1cc"},
 "encoding":{"x":{"field":"t1","type":"quantitative","axis":null},"x2":{"field":"t2"},
  "y":{"field":"p1","type":"quantitative","title":null,"scale":{"domain":[2367.93,2807.74],"nice":false,"zero":false},
   "axis":{"orient":"right","title":null,"values":[2797.05,2774.3,2752.2,2729.45,2707.35,2684.6,2661.85,2639.75,2617.0,2594.9,2572.15,2550.05,2527.3,2505.2,2460.35,2437.6,2415.5,2392.75,2370.65],"tickCount":100,"format":".2f","grid":false,"domain":false,"ticks":true,"labels":true,"labelOverlap":false,"labelBound":false,"tickSize":3,"tickColor":"#000","labelColor":"#000","labelFontSize":10,"labelFont":"Liberation Sans","labelPadding":2}},
  "y2":{"field":"p2"}}},
{"data":{"name":"blueLevels"},"mark":{"type":"rule","stroke":"#1010c8","strokeWidth":1.2},
 "encoding":{"y":{"field":"p","type":"quantitative","title":null,"axis":{"title":null,"orient":"right"}}}},
{"data":{"name":"redLevels"},"mark":{"type":"rule","stroke":"#b02a2a","strokeWidth":1.2,"strokeDash":[9,4,2,4]},
 "encoding":{"y":{"field":"p","type":"quantitative","title":null,"axis":{"title":null,"orient":"right"}}}},
{"data":{"name":"blackLevels"},"mark":{"type":"rule","stroke":"#000","strokeWidth":1.2,"strokeDash":[9,4,2,4]},
 "encoding":{"y":{"field":"p","type":"quantitative","title":null,"axis":{"title":null,"orient":"right"}}}},
{"data":{"name":"grayLevels"},"mark":{"type":"rule","stroke":"#c8c8c8","strokeWidth":1},
 "encoding":{"y":{"field":"p","type":"quantitative","title":null,"axis":{"title":null,"orient":"right"}}}},
{"data":{"name":"pink"},"mark":{"type":"rule","stroke":"#ff00ff","strokeWidth":1.3},
 "encoding":{"x":{"field":"t","type":"quantitative","axis":null}}},
{"data":{"name":"price"},"mark":{"type":"area","fill":"#8e4596","opacity":0.6},
 "encoding":{"x":{"field":"t","type":"quantitative","axis":null},"y":{"field":"l","type":"quantitative","title":null,"axis":{"title":null,"orient":"right"}},"y2":{"field":"h"}}},
{"data":{"name":"price"},"mark":{"type":"rule","strokeWidth":1.3},
 "encoding":{"x":{"field":"t","type":"quantitative","axis":null},"y":{"field":"l","type":"quantitative","title":null,"axis":{"title":null,"orient":"right"}},"y2":{"field":"h"},
  "stroke":{"condition":{"test":"datum.d=='u'","value":"#6a5acd"},"value":"#a81c34"}}},
{"data":{"name":"trades"},"mark":{"type":"rule","stroke":"#d02020","strokeWidth":1,"strokeDash":[2,2]},
 "encoding":{"x":{"field":"t1","type":"quantitative","axis":null},"y":{"field":"p1","type":"quantitative","title":null,"axis":{"title":null,"orient":"right"}},"x2":{"field":"t2"},"y2":{"field":"p2"}}},
{"data":{"name":"circles"},"mark":{"type":"point","filled":true,"fill":"#c9c9c9","opacity":0.8,"size":330,"shape":"circle"},
 "encoding":{"x":{"field":"t","type":"quantitative","axis":null},"y":{"field":"p","type":"quantitative","title":null,"axis":{"title":null,"orient":"right"}}}},
{"data":{"name":"bdash"},"mark":{"type":"point","filled":false,"stroke":"#1010c8","strokeWidth":1.6,"opacity":1,"size":64,"shape":"M-1,0H1"},
 "encoding":{"x":{"field":"t","type":"quantitative","axis":null},"y":{"field":"p","type":"quantitative","title":null,"axis":{"title":null,"orient":"right"}}}},
{"data":{"name":"orange"},"mark":{"type":"rule","stroke":"#f0650e","strokeWidth":2.2},
 "encoding":{"x":{"field":"t1","type":"quantitative","axis":null},"y":{"field":"p1","type":"quantitative","title":null,"axis":{"title":null,"orient":"right"}},"x2":{"field":"t2"},"y2":{"field":"p2"}}},
{"data":{"name":"orders"},"mark":{"type":"text","align":"left","baseline":"bottom","dx":2,"dy":-1,"fontSize":10,"fill":"#000"},
 "encoding":{"x":{"datum":0,"type":"quantitative","axis":null},"y":{"field":"p","type":"quantitative","title":null,"axis":{"title":null,"orient":"right"}},"text":{"field":"txt"}}},
{"data":{"name":"title"},"mark":{"type":"text","align":"left","baseline":"middle","dx":3,"fontSize":10,"fill":"#000"},
 "encoding":{"x":{"datum":0,"type":"quantitative","axis":null},"y":{"datum":2802.3,"type":"quantitative","title":null,"axis":{"title":null,"orient":"right"}},"text":{"field":"txt"}}},
{"data":{"name":"ylab"},"mark":{"type":"point","filled":true,"opacity":1,"size":10000,"shape":"M0.04,-0.13H0.92V0.13H0.04Z"},
 "encoding":{"x":{"datum":1855,"type":"quantitative","axis":null},"y":{"field":"p","type":"quantitative","title":null,"axis":{"title":null,"orient":"right"}},
  "fill":{"condition":{"test":"datum.p==2483.04","value":"#000000"},"value":"#0000f0"}}},
{"data":{"name":"ylab"},"mark":{"type":"text","align":"left","baseline":"middle","dx":5,"fontSize":10,"fill":"#ffffff"},
 "encoding":{"x":{"datum":1855,"type":"quantitative","axis":null},"y":{"field":"p","type":"quantitative","title":null,"axis":{"title":null,"orient":"right"}},"text":{"field":"p","type":"quantitative","format":".2f"}}}
]
},
{
"width":1855,"height":91,
"layer":[
{"data":{"name":"grid"},"mark":{"type":"rule","stroke":"#000","strokeDash":[3,3],"strokeWidth":1},
 "encoding":{"x":{"field":"t","type":"quantitative","title":null,"scale":{"domain":[0,1855],"nice":false,"zero":false},
  "axis":{"title":null,"values":[52,116,180,244,307,371,436,499,563,627,691,755,819,883,948,1012,1075,1139,1202,1266,1330,1394,1458,1522,1586,1650],"tickCount":100,
   "labelExpr":"datum.value==52?'23 May 12:30':datum.value==116?'24 May 04:30':datum.value==180?'24 May 20:30':datum.value==244?'25 May 13:30':datum.value==307?'26 May 05:30':datum.value==371?'26 May 21:30':datum.value==436?'27 May 13:30':datum.value==499?'28 May 05:30':datum.value==563?'28 May 21:30':datum.value==627?'29 May 13:30':datum.value==691?'30 May 05:30':datum.value==755?'30 May 21:30':datum.value==819?'31 May 13:30':datum.value==883?'1 Jun 06:15':datum.value==948?'1 Jun 22:15':datum.value==1012?'2 Jun 14:15':datum.value==1075?'3 Jun 06:15':datum.value==1139?'3 Jun 22:15':datum.value==1202?'4 Jun 14:15':datum.value==1266?'5 Jun 06:15':datum.value==1330?'5 Jun 22:15':datum.value==1394?'6 Jun 14:15':datum.value==1458?'7 Jun 06:15':datum.value==1522?'7 Jun 22:15':datum.value==1586?'8 Jun 15:00':'9 Jun 07:00'",
   "labelAlign":"left","labelBaseline":"top","labelPadding":2,"tickSize":4,"tickColor":"#000","labelColor":"#000","labelFontSize":10,"labelFont":"Liberation Sans","domain":false,"grid":false,"ticks":true,"labels":true,"labelOverlap":false,"labelFlush":false}}}},
{"data":{"name":"levels"},"mark":{"type":"rule","stroke":"#b8b8b8","strokeDash":[4,3],"strokeWidth":1},
 "encoding":{"y":{"field":"v","type":"quantitative","title":null,"scale":{"domain":[-8,110],"nice":false,"zero":false},
  "axis":{"orient":"right","title":null,"values":[0,20,80,100],"tickCount":100,"format":"d","grid":false,"domain":false,"ticks":true,"labels":true,"labelOverlap":false,"labelBound":false,"tickSize":3,"tickColor":"#000","labelColor":"#000","labelFontSize":10,"labelFont":"Liberation Sans","labelPadding":2}}}},
{"data":{"name":"pink"},"mark":{"type":"rule","stroke":"#ff00ff","strokeWidth":1.3},
 "encoding":{"x":{"field":"t","type":"quantitative","title":null,"axis":{"title":null}}}},
{"data":{"name":"stoch"},"mark":{"type":"line","stroke":"#20b2aa","strokeWidth":1.6},
 "encoding":{"x":{"field":"t","type":"quantitative","title":null,"axis":{"title":null}},"y":{"field":"s","type":"quantitative","title":null,"axis":{"title":null,"orient":"right"}}}},
{"data":{"name":"stoch"},"mark":{"type":"line","stroke":"#e00000","strokeWidth":1.6},
 "encoding":{"x":{"field":"t","type":"quantitative","title":null,"axis":{"title":null}},"y":{"field":"k","type":"quantitative","title":null,"axis":{"title":null,"orient":"right"}}}},
{"data":{"name":"stochLabel"},"mark":{"type":"text","align":"left","baseline":"middle","dx":2,"fontSize":10,"fill":"#000"},
 "encoding":{"x":{"datum":0,"type":"quantitative","title":null,"axis":{"title":null}},"y":{"datum":103,"type":"quantitative","title":null,"axis":{"title":null,"orient":"right"}},"text":{"field":"txt"}}},
{"data":{"name":"watermark"},"mark":{"type":"text","align":"center","baseline":"middle","fontSize":58,"font":"Liberation Sans","fill":"#f4f4f4","stroke":"#8a8a8a","strokeWidth":1.6,"opacity":0.92},
 "encoding":{"x":{"datum":1429,"type":"quantitative","title":null,"axis":{"title":null}},"y":{"datum":16,"type":"quantitative","title":null,"axis":{"title":null,"orient":"right"}},"text":{"field":"txt"}}},
{"data":{"name":"timeLabel"},"mark":{"type":"point","filled":true,"opacity":1,"fill":"#ff00ff","size":10000,"shape":"M-0.74,-0.14H0.74V0.14H-0.74Z"},
 "encoding":{"x":{"datum":18,"type":"quantitative","title":null,"axis":{"title":null}},"y":{"datum":-21,"type":"quantitative","title":null,"axis":{"title":null,"orient":"right"}}}},
{"data":{"name":"timeLabel"},"mark":{"type":"text","align":"center","baseline":"middle","fontSize":10,"fill":"#ffffff"},
 "encoding":{"x":{"datum":18,"type":"quantitative","title":null,"axis":{"title":null}},"y":{"datum":-21,"type":"quantitative","title":null,"axis":{"title":null,"orient":"right"}},"text":{"field":"txt"}}}
]
}
]
}
